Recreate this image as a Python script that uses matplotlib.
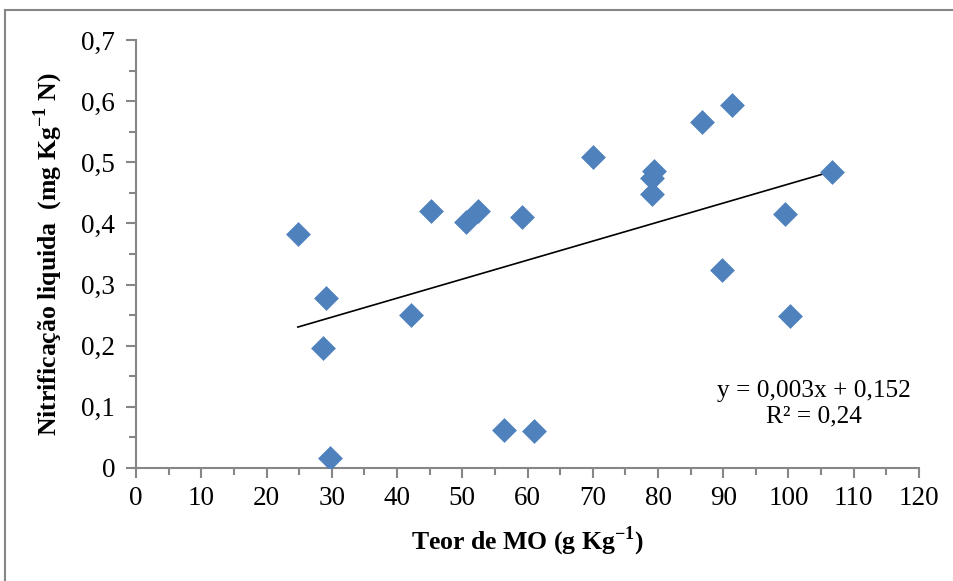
import numpy as np
import matplotlib.pyplot as plt
from matplotlib.patches import Rectangle

# organic matter content (g/kg) and net nitrification (mg/kg N)
teor_mo = [24.8, 29.1, 28.7, 29.7, 42.1, 45.2, 50.6, 52.4, 59.2, 56.4, 61.0,
           70.0, 79.1, 79.4, 79.1, 86.7, 91.3, 89.8, 99.5, 100.2, 106.7]
nitrificacao = [0.383, 0.278, 0.196, 0.016, 0.250, 0.421, 0.403, 0.421, 0.411, 0.062, 0.061,
                0.509, 0.475, 0.486, 0.448, 0.566, 0.594, 0.324, 0.416, 0.249, 0.484]

x_ticks = list(range(0, 121, 10))
y_ticks = [0, 0.1, 0.2, 0.3, 0.4, 0.5, 0.6, 0.7]

plt.rcParams['font.family'] = ['Liberation Serif', 'DejaVu Serif']
plt.rcParams['mathtext.fontset'] = 'custom'
plt.rcParams['mathtext.rm'] = 'Liberation Serif'
plt.rcParams['mathtext.bf'] = 'Liberation Serif:bold'

fig = plt.figure(figsize=(9.54, 5.81), dpi=100)
ax = fig.add_axes([0.1426, 0.1945, 0.8207, 0.7367])

ax.scatter(teor_mo, nitrificacao, marker='D', s=160, color='#4F81BD', zorder=3, linewidths=0)

# linear trendline
coef = np.polyfit(teor_mo, nitrificacao, 1)
xs = np.array([min(teor_mo), max(teor_mo)])
ax.plot(xs, np.polyval(coef, xs), color='black', linewidth=1.2, zorder=2)

ax.set_xlim(0, 120)
ax.set_ylim(0, 0.7)
ax.set_xticks(x_ticks)
ax.set_xticklabels([str(v) for v in x_ticks])
ax.set_yticks(y_ticks)
ax.set_yticklabels(['0' if v == 0 else ('%.1f' % v).replace('.', ',') for v in y_ticks])
ax.set_xticks(np.arange(5, 120, 10), minor=True)
ax.set_yticks(np.arange(0.05, 0.7, 0.1), minor=True)

for s in ['top', 'right']:
    ax.spines[s].set_visible(False)
for s in ['left', 'bottom']:
    ax.spines[s].set_color('#868686')
    ax.spines[s].set_linewidth(1.5)
ax.tick_params(which='major', direction='out', length=7, width=1.5, color='#868686',
               labelsize=19.5)
ax.tick_params(which='minor', direction='out', length=5, width=1.5, color='#868686')
ax.tick_params(axis='x', pad=6)
ax.tick_params(axis='y', pad=8)

ax.set_xlabel(r'Teor de MO (g Kg$^{\mathbf{-1}}$)', fontsize=18.5, fontweight='bold', labelpad=10)
ax.set_ylabel(r'Nitrificação liquida  (mg Kg$^{\mathbf{-1}}$ N)', fontsize=18.5,
              fontweight='bold', labelpad=12)

ax.text(103.9, 0.105, 'y = 0,003x + 0,152\nR² = 0,24', fontsize=18.3, ha='center', va='center',
        linespacing=1.25)

# outer chart border
fig.patches.append(Rectangle((0.005, -0.01), 1.0, 0.993, transform=fig.transFigure,
                             fill=False, edgecolor='#868686', linewidth=1.5))

fig.savefig('out.png', dpi=100)
